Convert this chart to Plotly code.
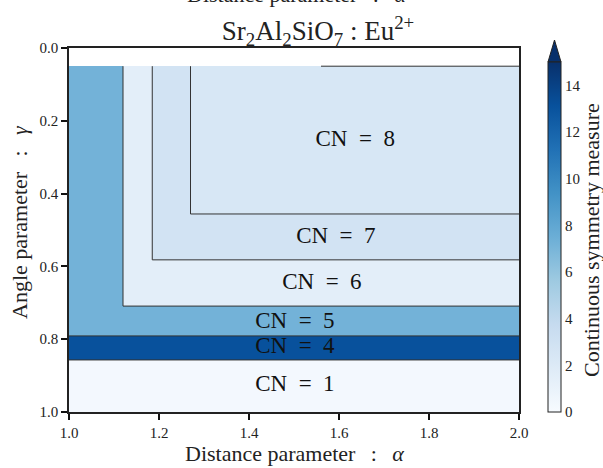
import numpy as np
import plotly.graph_objects as go

# Region boundaries (distance parameter alpha, angle parameter gamma)
alpha_edges = [1.0, 1.12, 1.185, 1.27, 2.0]
gamma_edges = [0.0, 0.05, 0.456, 0.582, 0.709, 0.791, 0.857, 1.0]

# Coordination number of each cell (rows: gamma bands, cols: alpha bands)
cn_grid = [
    [None, None, None, None],
    [5, 6, 7, 8],
    [5, 6, 7, 7],
    [5, 6, 6, 6],
    [5, 5, 5, 5],
    [4, 4, 4, 4],
    [1, 1, 1, 1],
]
# Continuous symmetry measure for each coordination number
csm_by_cn = {1: 0.3, 4: 13.1, 5: 7.2, 6: 1.5, 7: 2.8, 8: 2.4}

# Label positions
label_cn = [8, 7, 6, 5, 4, 1]
label_alpha = [1.636, 1.593, 1.562, 1.502, 1.502, 1.502]
label_gamma = [0.253, 0.519, 0.646, 0.753, 0.821, 0.926]

# Boundary lines between regions
boundary_lines = [
    ([1.27, 1.27, 2.0], [0.05, 0.456, 0.456]),
    ([1.185, 1.185, 2.0], [0.05, 0.582, 0.582]),
    ([1.12, 1.12, 2.0], [0.05, 0.709, 0.709]),
    ([1.0, 2.0], [0.791, 0.791]),
    ([1.0, 2.0], [0.857, 0.857]),
    ([1.56, 2.0], [0.05, 0.05]),
]

z = [[np.nan if c is None else csm_by_cn[c] for c in row] for row in cn_grid]

SERIF = "Liberation Serif"
SP = "\u2002\u2009"
x_label = f"Distance parameter{SP}:{SP}<i>α</i>"
y_label = f"Angle parameter{SP}:{SP}<i>γ</i>"

# pixel -> paper helpers (plot area: x 69..519, y 48..412)
def px(xp):
    return (xp - 69) / 450

def py(yp):
    return (412 - yp) / 364

fig = go.Figure()
fig.add_trace(go.Heatmap(
    x=alpha_edges, y=gamma_edges, z=z,
    colorscale="Blues", zmin=0, zmax=15,
    hoverongaps=False,
    colorbar=dict(
        x=px(548), xanchor="left", xpad=0,
        y=0, yanchor="bottom", ypad=0, len=350 / 364,
        thickness=13, outlinewidth=1, outlinecolor="#222",
        tickvals=list(range(0, 15, 2)), ticks="",
        tickfont=dict(family=SERIF, size=15, color="#222"),
    ),
))

for xs, ys in boundary_lines:
    fig.add_trace(go.Scatter(x=xs, y=ys, mode="lines",
                             line=dict(color="#333", width=1),
                             showlegend=False, hoverinfo="skip"))

fig.add_trace(go.Scatter(
    x=label_alpha, y=label_gamma, mode="text",
    text=[f"CN\u2002=\u2002{c}" for c in label_cn],
    textfont=dict(family=SERIF, size=23, color="#111"),
    showlegend=False, hoverinfo="skip"))

# colorbar extend triangle
x0, x1 = px(548), px(561)
xm = (x0 + x1) / 2
yb, yt = py(62), py(40)
fig.add_shape(type="path", xref="paper", yref="paper",
              path=f"M {x0} {yb} L {xm} {yt} L {x1} {yb} Z",
              fillcolor="#08306b", line=dict(color="#222", width=1))

# colorbar title
fig.add_annotation(xref="paper", yref="paper", x=px(591), y=py(240),
                   xanchor="center", yanchor="middle",
                   textangle=-90, showarrow=False,
                   text="Continuous symmetry measure",
                   font=dict(family=SERIF, size=22, color="#222"))

# axis titles
fig.add_annotation(xref="paper", yref="paper", x=px(294), y=py(453),
                   xanchor="center", yanchor="middle", showarrow=False,
                   text=x_label, font=dict(family=SERIF, size=22, color="#222"))
fig.add_annotation(xref="paper", yref="paper", x=px(19), y=py(222),
                   xanchor="center", yanchor="middle", textangle=-90,
                   showarrow=False,
                   text=y_label, font=dict(family=SERIF, size=22, color="#222"))

# partially visible text at the very top edge
fig.add_annotation(xref="paper", yref="paper", x=px(296), y=py(9),
                   yanchor="bottom", showarrow=False,
                   text=x_label,
                   font=dict(family=SERIF, size=22, color="#222"))

fig.update_layout(
    width=603, height=468,
    margin=dict(l=69, r=84, t=48, b=56),
    paper_bgcolor="white", plot_bgcolor="white",
    title=dict(text="Sr<sub>2</sub>Al<sub>2</sub>SiO<sub>7</sub> : Eu<sup>2+</sup>",
               x=318 / 603, xanchor="center", y=1 - 31 / 468, yanchor="middle",
               font=dict(family=SERIF, size=27, color="#222")),
    xaxis=dict(range=[1.0, 2.0], tickvals=[1.0, 1.2, 1.4, 1.6, 1.8, 2.0],
               ticktext=["1.0", "1.2", "1.4", "1.6", "1.8", "2.0"],
               ticks="outside", ticklen=6, tickwidth=1.5, tickcolor="#111",
               showline=True, linecolor="#222", linewidth=1.5, mirror=True,
               showgrid=False, zeroline=False, automargin=False,
               tickfont=dict(family=SERIF, size=15, color="#222")),
    yaxis=dict(range=[1.0, 0.0], tickvals=[0.0, 0.2, 0.4, 0.6, 0.8, 1.0],
               ticktext=["0.0", "0.2", "0.4", "0.6", "0.8", "1.0"],
               ticks="outside", ticklen=6, tickwidth=1.5, tickcolor="#111",
               showline=True, linecolor="#222", linewidth=1.5, mirror=True,
               showgrid=False, zeroline=False, automargin=False,
               tickfont=dict(family=SERIF, size=15, color="#222")),
)

fig.write_html("out.html", config={"displayModeBar": False},
               post_script="document.body.style.margin='0';")
